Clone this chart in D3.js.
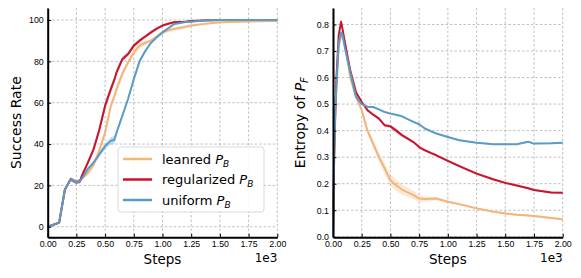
<!DOCTYPE html>
<html>
<head>
<meta charset="utf-8">
<script src="https://cdn.jsdelivr.net/npm/d3@7"></script>
<style>
  body { margin: 0; background: #fff; }
  svg { display: block; font-family: 'DejaVu Sans', sans-serif; }
  .grid line { stroke: #b0b0b0; stroke-width: 0.8; stroke-dasharray: 2.5 2; }
  .axis path, .axis line { stroke: #000; }
  .axis text { font-size: 8.8px; fill: #000; }
</style>
</head>
<body>
<div id="chart"></div>
<script>
// series names and colours
const names = ['leanred', 'regularized', 'uniform'];
const colors = ['#f2b57a', '#c8142c', '#5a9cc6'];

// success rate panel
const stepsSuccess = [0, 50, 100, 150, 200, 250, 280, 300, 350, 400, 450, 500, 550, 580, 600, 650,
  700, 750, 800, 850, 900, 950, 1000, 1050, 1100, 1200, 1250, 1350, 1500, 1750, 2000];
const successLearned = [0, 1, 2, 18, 23, 21.5, 22, 23.5, 26, 30, 37, 45.6, 58.5, 63, 66.6, 74,
  79.5, 84.3, 87.6, 89, 90, 92, 94, 95, 95.6, 96.7, 97.3, 98, 98.9, 99.3, 99.5];
const successRegularized = [0, 1, 2, 18, 23, 21.5, 22, 25, 31, 37.5, 47, 58.5, 66.6, 71, 74.7, 81,
  83.5, 87.6, 90, 92, 94, 95.8, 97.3, 98.2, 98.9, 99.2, 99.5, 99.8, 100, 100, 100];
const successUniform = [0, 1, 2, 18, 23, 21.5, 22, 23.5, 28, 31, 35, 39, 41.6, 42, 45.6, 53.7,
  61.8, 71.4, 80, 85, 89, 91.6, 94, 96, 98, 99, 99.2, 99.7, 100, 100, 100];
const successSpreadLearned = [0, 0.3, 0.5, 0.8, 1, 1, 1, 1, 1.2, 1.5, 1.8, 2, 2, 2, 2, 1.8,
  1.5, 1.5, 1.5, 1.2, 1, 1, 1, 1, 0.8, 0.8, 0.8, 0.6, 0.5, 0.5, 0.5];
const successSpreadRegularized = [0, 0.3, 0.5, 0.8, 1, 1, 1, 1, 1.2, 1.5, 2, 2, 1.8, 1.5, 1.5, 1.2,
  1, 1, 0.8, 0.8, 0.8, 0.6, 0.6, 0.5, 0.5, 0.4, 0.4, 0.3, 0.3, 0.3, 0.3];
const successSpreadUniform = [0, 0.3, 0.5, 0.8, 1, 1, 1, 1, 1, 1, 1.2, 1.5, 1.8, 2, 1.5, 1.2,
  1, 1, 1, 0.8, 0.8, 0.6, 0.6, 0.5, 0.5, 0.4, 0.4, 0.3, 0.3, 0.3, 0.3];
const successTicks = [0, 20, 40, 60, 80, 100];

// entropy panel
const stepsEntropy = [0, 10, 20, 30, 50, 70, 80, 100, 150, 200, 250, 300, 350, 400, 450, 500, 550,
  600, 700, 750, 800, 850, 900, 1000, 1100, 1250, 1400, 1500, 1600, 1700, 1750, 1900, 2000];
const entropyLearned = [0, 0.28, 0.45, 0.56, 0.72, 0.755, 0.76, 0.74, 0.60, 0.527, 0.477, 0.40,
  0.35, 0.30, 0.257, 0.213, 0.194, 0.178, 0.157, 0.144, 0.142, 0.143, 0.144, 0.132, 0.123, 0.107,
  0.094, 0.088, 0.083, 0.080, 0.078, 0.071, 0.066];
const entropyRegularized = [0, 0.3, 0.48, 0.6, 0.76, 0.81, 0.79, 0.74, 0.627, 0.545, 0.508, 0.477,
  0.46, 0.445, 0.42, 0.416, 0.40, 0.383, 0.357, 0.338, 0.326, 0.316, 0.307, 0.286, 0.266, 0.238,
  0.216, 0.203, 0.193, 0.183, 0.176, 0.167, 0.166];
const entropyUniform = [0, 0.32, 0.47, 0.58, 0.73, 0.77, 0.765, 0.72, 0.62, 0.527, 0.50, 0.49,
  0.489, 0.48, 0.47, 0.464, 0.46, 0.454, 0.433, 0.424, 0.408, 0.398, 0.389, 0.376, 0.364, 0.354,
  0.349, 0.349, 0.349, 0.358, 0.351, 0.352, 0.354];
const entropySpreadLearned = [0, 0, 0, 0, 0, 0.005, 0.005, 0.005, 0.006, 0.008, 0.01, 0.012, 0.015,
  0.018, 0.02, 0.022, 0.022, 0.02, 0.016, 0.013, 0.01, 0.008, 0.006, 0.005, 0.004, 0.004, 0.004,
  0.004, 0.004, 0.004, 0.004, 0.004, 0.004];
const entropySpreadRegularized = [0, 0, 0, 0, 0, 0.005, 0.005, 0.004, 0.004, 0.004, 0.004, 0.004,
  0.004, 0.004, 0.005, 0.006, 0.008, 0.006, 0.004, 0.004, 0.004, 0.004, 0.004, 0.004, 0.004,
  0.004, 0.004, 0.004, 0.004, 0.004, 0.004, 0.004, 0.004];
const entropySpreadUniform = [0, 0, 0, 0, 0, 0.005, 0.005, 0.004, 0.004, 0.003, 0.003, 0.003,
  0.003, 0.003, 0.003, 0.003, 0.003, 0.003, 0.003, 0.003, 0.003, 0.003, 0.003, 0.003, 0.003,
  0.003, 0.003, 0.003, 0.003, 0.003, 0.003, 0.003, 0.003];
const entropyTicks = [0, 0.1, 0.2, 0.3, 0.4, 0.5, 0.6, 0.7, 0.8];

const stepTicks = [0, 250, 500, 750, 1000, 1250, 1500, 1750, 2000];

const canvasWidth = 581;
const canvasHeight = 278;

const svg = d3.select('#chart')
  .append('svg')
    .attr('width', canvasWidth)
    .attr('height', canvasHeight);

function panel(opts) {
  const { left, right, top, bottom, yDomain, yTicks, yFormat, steps, series, spreads, label } = opts;

  const x = d3.scaleLinear().domain([0, 2000]).range([left, right]);
  const y = d3.scaleLinear().domain(yDomain).range([bottom, top]);

  // grid
  const grid = svg.append('g').attr('class', 'grid');
  grid.selectAll('.gx').data(stepTicks).enter().append('line')
    .attr('x1', d => x(d)).attr('x2', d => x(d))
    .attr('y1', top).attr('y2', bottom);
  grid.selectAll('.gy').data(yTicks).enter().append('line')
    .attr('x1', left).attr('x2', right)
    .attr('y1', d => y(d)).attr('y2', d => y(d));

  const line = vals => d3.line()
    .x((d, i) => x(steps[i]))
    .y(d => y(d))(vals);

  // shaded bands, then lines
  series.forEach((vals, k) => {
    const spread = spreads[k];
    const area = d3.area()
      .x((d, i) => x(steps[i]))
      .y0((d, i) => y(d - spread[i]))
      .y1((d, i) => y(d + spread[i]));
    svg.append('path')
      .attr('d', area(vals))
      .attr('fill', colors[k])
      .attr('opacity', 0.3);
  });
  series.forEach((vals, k) => {
    svg.append('path')
      .attr('d', line(vals))
      .attr('fill', 'none')
      .attr('stroke', colors[k])
      .attr('stroke-width', 2)
      .attr('stroke-linejoin', 'round');
  });

  // axes with inward ticks
  const axisX = d3.axisBottom(x)
    .tickValues(stepTicks)
    .tickFormat(d => (d / 1000).toFixed(2))
    .tickSizeInner(-3.5)
    .tickSizeOuter(0)
    .tickPadding(3);
  const axisY = d3.axisLeft(y)
    .tickValues(yTicks)
    .tickFormat(yFormat)
    .tickSizeInner(-3.5)
    .tickSizeOuter(0)
    .tickPadding(4);

  const gx = svg.append('g')
    .attr('class', 'axis')
    .attr('transform', `translate(0, ${bottom})`)
    .call(axisX);
  gx.select('.domain').attr('stroke-width', 2);

  const gy = svg.append('g')
    .attr('class', 'axis')
    .attr('transform', `translate(${left}, 0)`)
    .call(axisY);
  gy.select('.domain').attr('stroke-width', 2);

  // axis labels
  svg.append('text')
    .attr('x', (left + right) / 2)
    .attr('y', bottom + 27)
    .attr('text-anchor', 'middle')
    .attr('font-size', 13.5)
    .text('Steps');
  svg.append('text')
    .attr('x', right)
    .attr('y', bottom + 25)
    .attr('text-anchor', 'end')
    .attr('font-size', 12)
    .text('1e3');

  const yl = svg.append('text')
    .attr('transform', `translate(${label.x}, ${(top + bottom) / 2}) rotate(-90)`)
    .attr('text-anchor', 'middle')
    .attr('font-size', 14);
  yl.append('tspan').text(label.text);
  if (label.sub) {
    yl.append('tspan').attr('font-style', 'italic').text(' P');
    yl.append('tspan').attr('font-style', 'italic').attr('font-size', 10).attr('dy', 3).text(label.sub);
  }
}

panel({
  left: 47.7, right: 277.3, top: 8, bottom: 237.3,
  yDomain: [-5.1, 105.8],
  yTicks: successTicks,
  yFormat: d3.format('d'),
  steps: stepsSuccess,
  series: [successLearned, successRegularized, successUniform],
  spreads: [successSpreadLearned, successSpreadRegularized, successSpreadUniform],
  label: { x: 21, text: 'Success Rate' },
});

panel({
  left: 333, right: 562.7, top: 8, bottom: 237.3,
  yDomain: [-0.002, 0.862],
  yTicks: entropyTicks,
  yFormat: d3.format('.1f'),
  steps: stepsEntropy,
  series: [entropyLearned, entropyRegularized, entropyUniform],
  spreads: [entropySpreadLearned, entropySpreadRegularized, entropySpreadUniform],
  label: { x: 305, text: 'Entropy of', sub: 'F' },
});

// legend
const legend = svg.append('g').attr('transform', 'translate(118, 147)');
legend.append('rect')
  .attr('width', 146).attr('height', 65)
  .attr('rx', 3)
  .attr('fill', '#fff').attr('fill-opacity', 0.85)
  .attr('stroke', '#d0d0d0').attr('stroke-width', 0.8);
names.forEach((name, k) => {
  const yy = 12 + k * 20.5;
  legend.append('line')
    .attr('x1', 5).attr('x2', 34)
    .attr('y1', yy).attr('y2', yy)
    .attr('stroke', colors[k]).attr('stroke-width', 2.5);
  const t = legend.append('text')
    .attr('x', 44).attr('y', yy + 4.5)
    .attr('font-size', 13);
  t.append('tspan').text(name + ' ');
  t.append('tspan').attr('font-style', 'italic').text('P');
  t.append('tspan').attr('font-style', 'italic').attr('font-size', 9).attr('dy', 3).text('B');
});
</script>
</body>
</html>
